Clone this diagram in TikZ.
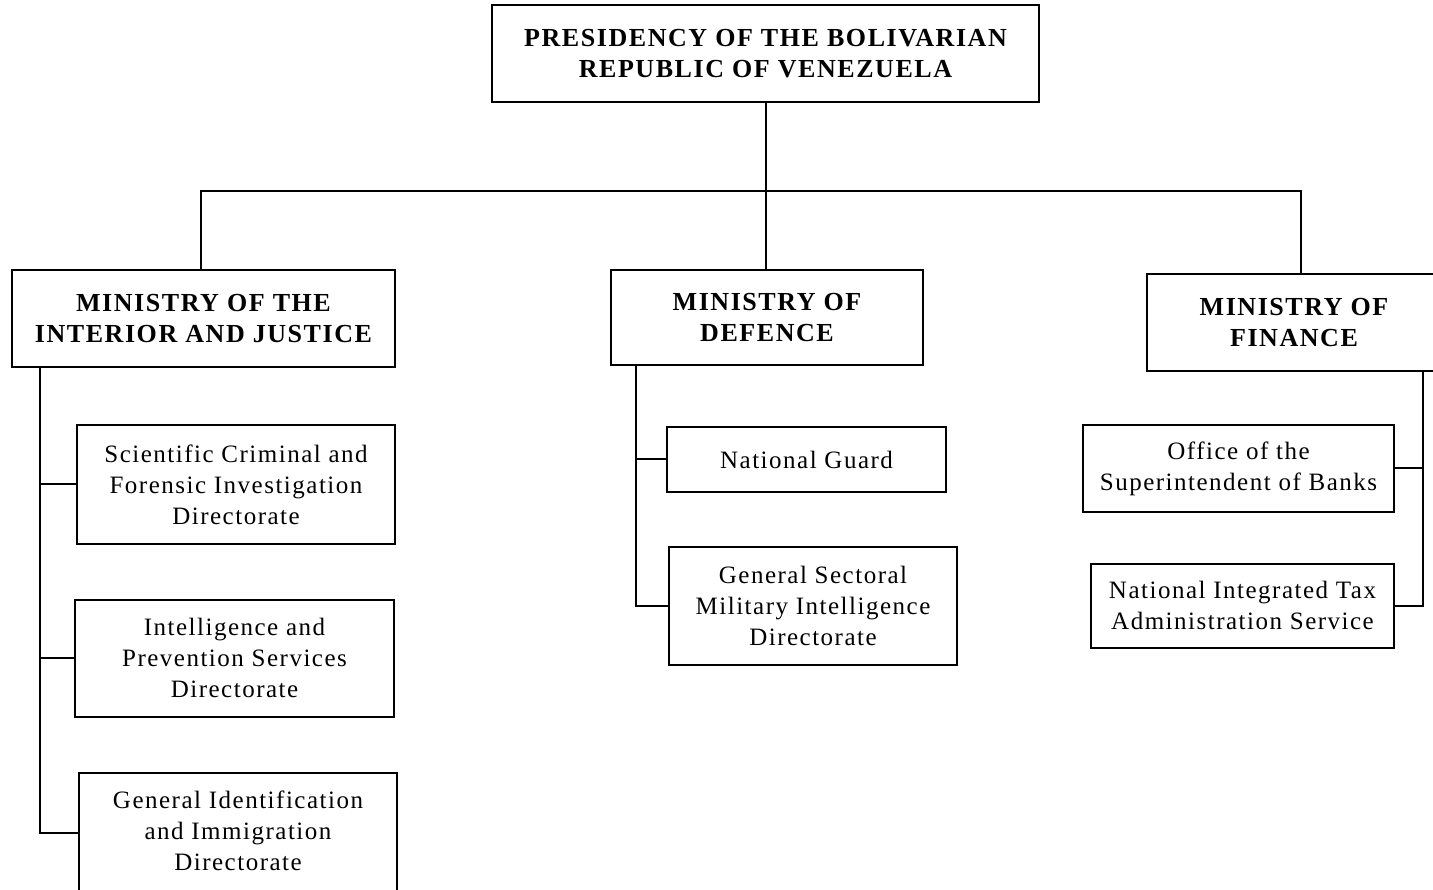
\documentclass[tikz,border=0pt]{standalone}
\usepackage{fontspec}
\setmainfont{Liberation Serif}[LetterSpace=6]
\begin{document}
\begin{tikzpicture}[x=1pt,y=-1pt,
  box/.style={draw, line width=2pt, align=center, inner sep=0pt,
    font=\fontsize{25}{31}\selectfont},
  head/.style={box, font=\bfseries\fontsize{26}{31}\selectfont},
  link/.style={line width=2pt}]
\useasboundingbox (0,0) rectangle (1433,890);
\clip (0,0) rectangle (1433,890);
% top level
\node[head, minimum width=547pt, minimum height=97pt] (pres) at (765.5,54)
  {PRESIDENCY OF THE BOLIVARIAN\\REPUBLIC OF VENEZUELA};
% ministries
\node[head, minimum width=383pt, minimum height=97pt] (int) at (203.5,319)
  {MINISTRY OF THE\\INTERIOR AND JUSTICE};
\node[head, minimum width=312pt, minimum height=95pt] (def) at (767,318)
  {MINISTRY OF\\DEFENCE};
\node[head, minimum width=294pt, minimum height=97pt] (fin) at (1294,323)
  {MINISTRY OF\\FINANCE};
% interior subunits
\node[box, minimum width=318pt, minimum height=118pt] (i1) at (236,484.5)
  {Scientific Criminal and\\Forensic Investigation\\Directorate};
\node[box, minimum width=319pt, minimum height=117pt] (i2) at (234.5,658)
  {Intelligence and\\Prevention Services\\Directorate};
\node[box, minimum width=318pt, minimum height=121pt] (i3) at (238,833.5)
  {General Identification\\and Immigration\\Directorate\rule[-6pt]{0pt}{6pt}};
% defence subunits
\node[box, minimum width=279pt, minimum height=64pt] (d1) at (806.5,459.5)
  {National Guard};
\node[box, minimum width=288pt, minimum height=118pt] (d2) at (813,605.5)
  {General Sectoral\\Military Intelligence\\Directorate};
% finance subunits
\node[box, minimum width=311pt, minimum height=86pt] (f1) at (1238.5,468.5)
  {Office of the\\Superintendent of Banks};
\node[box, minimum width=303pt, minimum height=84pt] (f2) at (1242.5,605.5)
  {National Integrated Tax\\Administration Service};
% bus
\coordinate (bus) at (0,191);
\coordinate (intTop) at (201,271);
\coordinate (finTop) at (1301,275);
\draw[link] (pres.south) -- (pres.south |- def.north);
\draw[link] (intTop) -- (intTop |- bus) -- (finTop |- bus) -- (finTop);
% interior spine
\coordinate (sI) at (40,368);
\draw[link] (sI) -- (sI |- 0,833) -- (i3.west |- 0,833);
\draw[link] (i1.west) -- (i1.west -| sI);
\draw[link] (i2.west) -- (i2.west -| sI);
% defence spine
\coordinate (sD) at (636,366);
\draw[link] (sD) |- (d2.west);
\draw[link] (d1.west) -- (d1.west -| sD);
% finance spine
\coordinate (sF) at (1423,372);
\draw[link] (sF) |- (f2.east);
\draw[link] (f1.east) -- (f1.east -| sF);
\end{tikzpicture}
\end{document}
